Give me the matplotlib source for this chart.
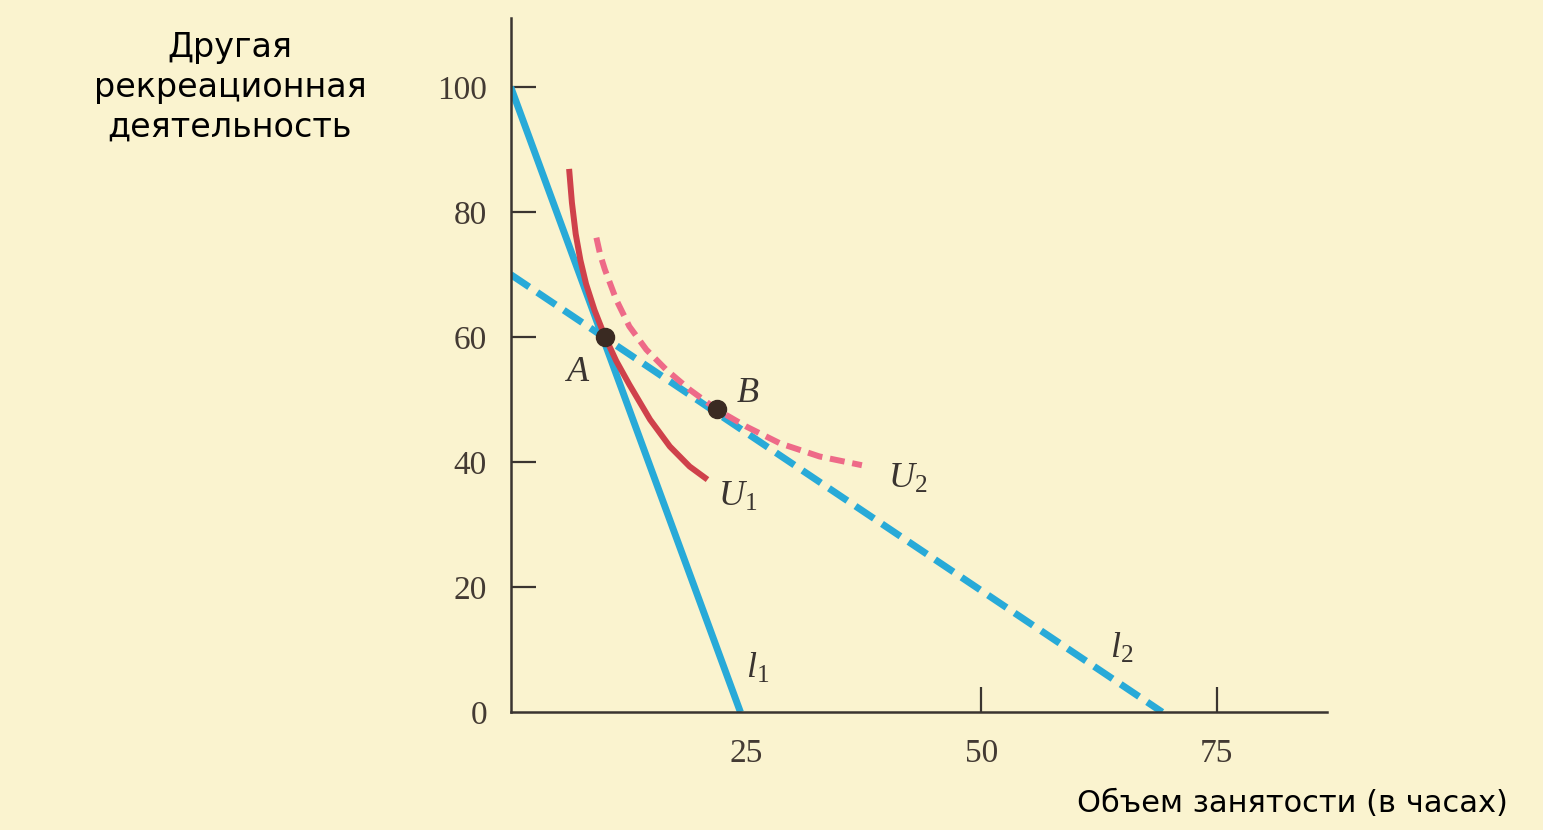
import matplotlib.pyplot as plt

BG = "#FAF3CF"
BLUE = "#28AAD8"
RED = "#CF414B"
PINK = "#EE6A88"
DARK = "#3A3430"
LABEL = "#433a33"
DOT = "#3A2A22"

plt.rcParams["mathtext.fontset"] = "custom"
plt.rcParams["mathtext.it"] = "Liberation Serif:italic"
plt.rcParams["mathtext.rm"] = "Liberation Serif"

# budget lines (hours of work vs other recreation)
l1_x = [0, 24.4]
l1_y = [100, 0]
l2_x = [0, 69.2]
l2_y = [70, 0]

# indifference curves
u1_x = [6.2, 6.5, 6.9, 7.4, 8.0, 8.9, 10.0, 11.2, 12.6, 13.7, 14.8, 16.9, 19.0, 20.9]
u1_y = [86.9, 81.5, 76.5, 72.3, 68.5, 64.3, 60.1, 56.2, 52.4, 49.6, 46.8, 42.5, 39.3, 37.2]
u2_x = [9.1, 9.5, 10.0, 11.2, 12.6, 14.4, 16.5, 19.0, 21.9, 25.0, 28.6, 32.8, 37.3]
u2_y = [75.9, 73.2, 70.8, 66.0, 61.7, 58.0, 54.8, 51.6, 48.4, 45.7, 43.0, 40.9, 39.5]

points = {"A": (10.0, 60.0), "B": (21.9, 48.5)}

x_ticks = [25, 50, 75]
y_ticks = [0, 20, 40, 60, 80, 100]

fig = plt.figure(figsize=(15.43, 8.30), dpi=100, facecolor=BG)
ax = fig.add_axes([0.331, 0.142, 0.529, 0.836])
ax.set_facecolor(BG)

ax.plot(l1_x, l1_y, color=BLUE, lw=5, solid_capstyle="butt", zorder=2)
ax.plot(l2_x, l2_y, color=BLUE, lw=5, dashes=(3.2, 1.4), zorder=2)
ax.plot(u1_x, u1_y, color=RED, lw=4.3, solid_capstyle="butt",
        solid_joinstyle="round", zorder=3)
ax.plot(u2_x, u2_y, color=PINK, lw=4.3, dashes=(2.5, 1.3), zorder=3)

for name, (px, py) in points.items():
    ax.plot(px, py, "o", color=DOT, ms=13, zorder=5)

serif = "Liberation Serif"
ax.text(7.1, 54.3, "A", fontsize=26, style="italic", family=serif, color=DARK, ha="center", va="center")
ax.text(25.2, 51.0, "B", fontsize=26, style="italic", family=serif, color=DARK, ha="center", va="center")
ax.text(24.1, 34.6, "$U_1$", fontsize=26, color=DARK, ha="center", va="center")
ax.text(42.2, 37.5, "$U_2$", fontsize=26, color=DARK, ha="center", va="center")
ax.text(26.2, 7.0, "$l_1$", fontsize=26, color=DARK, ha="center", va="center")
ax.text(64.9, 10.3, "$l_2$", fontsize=26, color=DARK, ha="center", va="center")

ax.set_xlim(0, 86.7)
ax.set_ylim(0, 111)
ax.set_xticks(x_ticks)
ax.set_yticks(y_ticks)
ax.set_xticklabels([str(v) for v in x_ticks], family=serif, fontsize=24, color=LABEL)
ax.set_yticklabels([str(v) for v in y_ticks], family=serif, fontsize=24, color=LABEL)
ax.tick_params(direction="in", length=18, width=1.6, color=DARK)
ax.tick_params(axis="y", pad=17)
ax.tick_params(axis="x", pad=19)
ax.xaxis.get_major_ticks()[0].tick1line.set_visible(False)
ax.yaxis.get_major_ticks()[0].tick1line.set_visible(False)

for s in ["top", "right"]:
    ax.spines[s].set_visible(False)
for s in ["left", "bottom"]:
    ax.spines[s].set_color(DARK)
    ax.spines[s].set_linewidth(1.8)

fig.text(0.149, 0.895, "Другая\nрекреационная\nдеятельность", ha="center", va="center",
         fontsize=24, color="black", linespacing=1.27, family="DejaVu Sans")
fig.text(0.977, 0.032, "Объем занятости (в часах)", ha="right", va="center",
         fontsize=22, color="black", family="DejaVu Sans")

fig.savefig("out.png", dpi=100, facecolor=BG)
